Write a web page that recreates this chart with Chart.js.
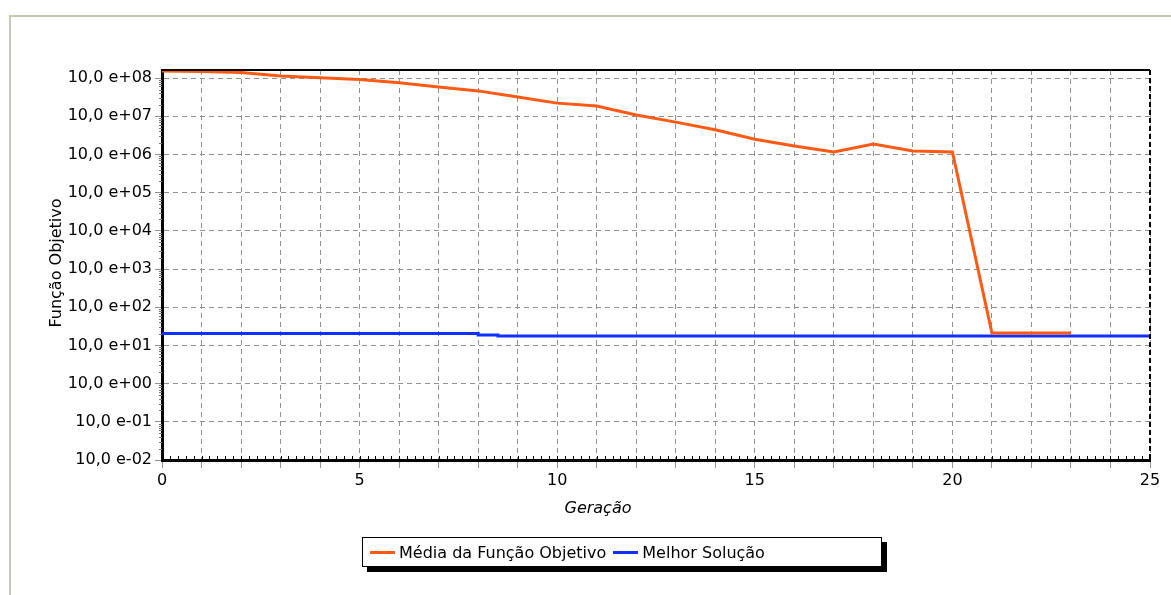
<!DOCTYPE html>
<html>
<head>
<meta charset="utf-8">
<script src="https://cdn.jsdelivr.net/npm/chart.js@4.4.1/dist/chart.umd.min.js"></script>
<style>
  html, body { margin: 0; padding: 0; background: #fff; }
  #wrap { position: relative; width: 1171px; height: 595px; overflow: hidden; font-family: 'DejaVu Sans', Verdana, sans-serif; }
  #frame { position: absolute; left: 9px; top: 15px; width: 1200px; height: 620px; border-left: 2px solid #c8c5b9; border-top: 2px solid #c8c5b9; }
  #chart { position: absolute; left: 0; top: 0; }
  #legend { position: absolute; left: 362px; top: 537px; width: 518px; height: 28px; border: 1px solid #000; background: #fff;
    box-shadow: 5px 5px 0 #000; font-size: 16px; color: #000; display: flex; align-items: center; white-space: nowrap; }
  .leg-item { display: inline-flex; align-items: center; margin-left: 7px; }
  .leg-line { display: inline-block; width: 25px; height: 3px; margin-right: 4px; }
</style>
</head>
<body>
<div id="wrap">
  <div id="frame"></div>
  <canvas id="chart" width="1171" height="595"></canvas>
  <div id="legend"></div>
</div>
<script>
// === DATA ===
var generations = [0, 1, 2, 3, 4, 5, 6, 7, 8, 9, 10, 11, 12, 13, 14, 15, 16, 17, 18, 19, 20, 21, 22, 23];
var mediaValues = [1.52e9, 1.48e9, 1.39e9, 1.13e9, 1.02e9, 9.1e8, 7.5e8, 5.8e8, 4.6e8, 3.2e8, 2.2e8, 1.85e8,
  1.07e8, 7.0e7, 4.4e7, 2.5e7, 1.66e7, 1.16e7, 1.87e7, 1.23e7, 1.16e7, 211, 211, 211];
var melhorX = [0, 8, 8.5, 25];
var melhorValues = [205, 187, 176, 176];
var yTickValues = [1e-1, 1e0, 1e1, 1e2, 1e3, 1e4, 1e5, 1e6, 1e7, 1e8, 1e9];
var yTickLabels = ['10,0 e-02', '10,0 e-01', '10,0 e+00', '10,0 e+01', '10,0 e+02', '10,0 e+03',
  '10,0 e+04', '10,0 e+05', '10,0 e+06', '10,0 e+07', '10,0 e+08'];
var seriesLabels = ['Média da Função Objetivo', 'Melhor Solução'];
var seriesColors = ['#ff5a14', '#1030ff'];
var xTitle = 'Geração';
var yTitle = 'Função Objetivo';

var FONT = "'DejaVu Sans', Verdana, sans-serif";
Chart.defaults.color = '#000';
Chart.defaults.font.family = FONT;

// frame borders, minor ticks and axis titles
var framePlugin = {
  id: 'frame',
  afterDraw: function(chart) {
    var ctx = chart.ctx, a = chart.chartArea;
    var xs = chart.scales.x, ys = chart.scales.y;
    ctx.save();
    // minor ticks on x axis (every 0.2)
    ctx.strokeStyle = '#000';
    ctx.lineWidth = 1;
    for (var k = 1; k < 125; k++) {
      var px = Math.round(xs.getPixelForValue(k / 5)) + 0.5;
      ctx.beginPath(); ctx.moveTo(px, a.bottom - 4); ctx.lineTo(px, a.bottom); ctx.stroke();
    }
    // minor ticks on y axis
    ctx.strokeStyle = '#777';
    for (var d = -1; d < 9; d++) {
      for (var m = 2; m < 10; m++) {
        var py = Math.round(ys.getPixelForValue(m * Math.pow(10, d))) + 0.5;
        ctx.beginPath(); ctx.moveTo(a.left - 3, py); ctx.lineTo(a.left, py); ctx.stroke();
      }
    }
    // top border
    ctx.strokeStyle = '#000';
    ctx.lineWidth = 2;
    ctx.beginPath(); ctx.moveTo(a.left, a.top); ctx.lineTo(a.right, a.top); ctx.stroke();
    // right border, dashed
    ctx.setLineDash([5, 3]);
    ctx.beginPath(); ctx.moveTo(a.right, a.top); ctx.lineTo(a.right, a.bottom); ctx.stroke();
    ctx.setLineDash([]);
    // axis titles
    ctx.fillStyle = '#000';
    ctx.font = 'italic 16px ' + FONT;
    ctx.textAlign = 'center';
    ctx.textBaseline = 'middle';
    ctx.fillText(xTitle, 598, 509);
    ctx.translate(57, 263);
    ctx.rotate(-Math.PI / 2);
    ctx.font = '16px ' + FONT;
    ctx.fillText(yTitle, 0, 0);
    ctx.restore();
  }
};

var chart = new Chart(document.getElementById('chart'), {
  type: 'line',
  data: {
    datasets: [
      {
        label: seriesLabels[0],
        data: generations.map(function(g, i) { return { x: g, y: mediaValues[i] }; }),
        borderColor: seriesColors[0], backgroundColor: seriesColors[0],
        borderWidth: 3, pointRadius: 0, tension: 0, fill: false
      },
      {
        label: seriesLabels[1],
        data: melhorX.map(function(g, i) { return { x: g, y: melhorValues[i] }; }),
        borderColor: seriesColors[1], backgroundColor: seriesColors[1],
        borderWidth: 3, pointRadius: 0, stepped: true, fill: false
      }
    ]
  },
  options: {
    responsive: false, animation: false,
    layout: { padding: { top: 70, right: 21, bottom: 0, left: 0 } },
    plugins: { legend: { display: false }, tooltip: { enabled: false } },
    scales: {
      x: {
        type: 'linear', min: 0, max: 25,
        afterFit: function(s) { s.height = 135; },
        ticks: {
          stepSize: 1, autoSkip: false, maxRotation: 0, padding: 3,
          font: { size: 16 },
          callback: function(v) { return v % 5 === 0 ? String(v) : ''; }
        },
        grid: { color: '#909090', tickLength: 8, tickColor: '#909090', tickBorderDash: [], lineWidth: 1 },
        border: { display: true, color: '#000', width: 3, dash: [5, 4] }
      },
      y: {
        type: 'logarithmic', min: 0.1, max: 1.62e9,
        afterFit: function(s) { s.width = 162; },
        afterBuildTicks: function(s) { s.ticks = yTickValues.map(function(v) { return { value: v }; }); },
        ticks: {
          autoSkip: false, padding: 3,
          font: { size: 16 },
          callback: function(v, i) { return yTickLabels[i]; }
        },
        grid: { color: '#909090', tickLength: 7, tickColor: '#909090', tickBorderDash: [], lineWidth: 1 },
        border: { display: true, color: '#000', width: 3, dash: [5, 4] }
      }
    }
  },
  plugins: [framePlugin]
});

// legend (HTML)
var legendEl = document.getElementById('legend');
var legendHtml = '';
for (var i = 0; i < seriesLabels.length; i++) {
  legendHtml += '<span class="leg-item"><span class="leg-line" style="background:' + seriesColors[i] + '"></span>' +
    seriesLabels[i] + '</span>';
}
legendEl.innerHTML = legendHtml;
</script>
</body>
</html>
